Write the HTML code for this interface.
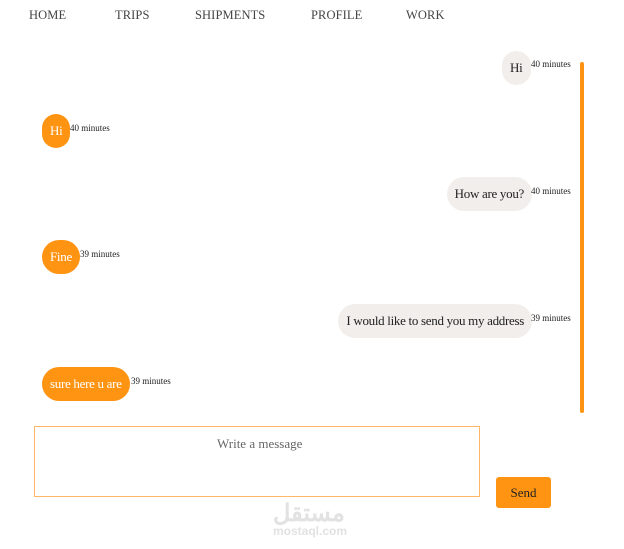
<!DOCTYPE html>
<html><head><meta charset="utf-8"><style>
body{margin:0;width:624px;height:549px;background:#fff;position:relative;overflow:hidden;font-family:"Liberation Serif",serif;color:#333}
.nav{position:absolute;top:8px;font-size:12.5px;color:#444;letter-spacing:0.1px}
.b{position:absolute;height:34px;line-height:34px;border-radius:17px;padding:0 8px;font-size:13px;white-space:nowrap;letter-spacing:-0.3px}
.me{background:#f1eeec;color:#222}
.them{background:#ff9413;color:#fff}
.t{position:absolute;font-size:9px;color:#222}
</style></head><body>
<div class="nav" style="left:29px">HOME</div>
<div class="nav" style="left:115px">TRIPS</div>
<div class="nav" style="left:195px">SHIPMENTS</div>
<div class="nav" style="left:311px">PROFILE</div>
<div class="nav" style="left:406px">WORK</div>
<div style="position:absolute;left:580px;top:62px;width:4px;height:351px;background:#ff9413;border-radius:2px"></div>

<div class="b me" style="right:93px;top:51px;width:13px">Hi</div><div class="t" style="left:531px;top:59px">40 minutes</div>
<div class="b them" style="left:42px;top:114px;width:12px">Hi</div><div class="t" style="left:70px;top:123px">40 minutes</div>
<div class="b me" style="right:92px;top:177px">How are you?</div><div class="t" style="left:531px;top:186px">40 minutes</div>
<div class="b them" style="left:42px;top:240px">Fine</div><div class="t" style="left:80px;top:249px">39 minutes</div>
<div class="b me" style="right:92px;top:304px">I would like to send you my address</div><div class="t" style="left:531px;top:313px">39 minutes</div>
<div class="b them" style="left:42px;top:367px">sure here u are</div><div class="t" style="left:131px;top:376px">39 minutes</div>

<div style="position:absolute;left:34px;top:426px;width:444px;height:69px;border:1px solid #ffb766"></div>
<div style="position:absolute;left:217px;top:436px;font-size:13px;color:#666">Write a message</div>
<div style="position:absolute;left:496px;top:477px;width:55px;height:31px;background:#ff9413;border-radius:3px;text-align:center;line-height:31px;font-size:13px;color:#222">Send</div>
<div style="position:absolute;left:273px;top:502px;font-family:'Liberation Sans','Noto Sans CJK SC',sans-serif;color:#e2e2e2;font-size:24px;font-weight:bold;line-height:24px">مستقل</div>
<div style="position:absolute;left:273px;top:524px;font-family:'Liberation Sans',sans-serif;color:#e2e2e2;font-size:12px;font-weight:bold">mostaql.com</div>
</body></html>
